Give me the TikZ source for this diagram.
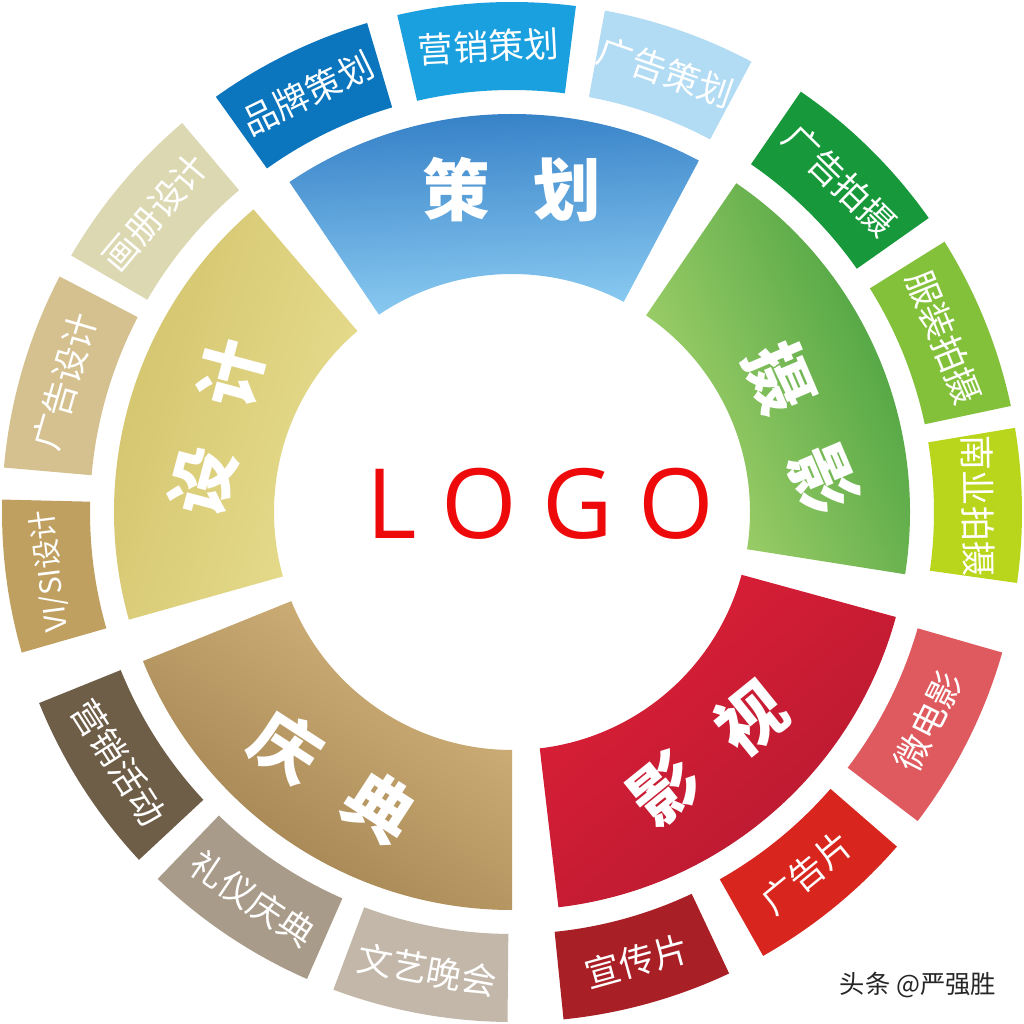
\documentclass[tikz,border=0pt]{standalone}
\usepackage{fontspec}
\setmainfont{Open Sans}
\newfontfamily\cjk{Noto Sans CJK SC}

\definecolor{logored}{HTML}{EE0A0A}
\definecolor{blueout}{HTML}{2C78C2}
\definecolor{bluein}{HTML}{8DCDF3}
\definecolor{greenout}{HTML}{429D3D}
\definecolor{greenin}{HTML}{AAD56E}
\definecolor{redout}{HTML}{B51A30}
\definecolor{redin}{HTML}{DD1F37}
\definecolor{brownout}{HTML}{9F7F4D}
\definecolor{brownin}{HTML}{D4B57D}
\definecolor{yellowout}{HTML}{D2C16A}
\definecolor{yellowin}{HTML}{E7DE8F}

% sector of the ring: start angle, end angle, inner radius, outer radius
\newcommand{\ringpart}[4]{(#1:#3) arc[start angle=#1, end angle=#2, radius=#3]
  -- (#2:#4) arc[start angle=#2, end angle=#1, radius=#4] -- cycle}

\begin{document}
\begin{tikzpicture}[x=0.025cm, y=0.025cm,
  mainlabel/.style={font=\cjk\bfseries\fontsize{48}{48}\selectfont, text=white},
  sublabel/.style={font=\cjk\fontsize{25}{25}\selectfont, text=white}]

\useasboundingbox (-512,-512) rectangle (512,512);
\fill[white] (-512,-512) rectangle (512,512);

% inner ring
\shade[top color=blueout, bottom color=bluein, shading angle=3] \ringpart{62}{124}{238}{398};
\shade[top color=greenout, bottom color=greenin, shading angle=-67] \ringpart{-9}{55.7}{238}{398};
\shade[top color=redout, bottom color=redin, shading angle=-139] \ringpart{-83.3}{-15.3}{238}{398};
\shade[top color=brownout, bottom color=brownin, shading angle=146] \ringpart{202}{270}{238}{398};
\shade[top color=yellowout, bottom color=yellowin, shading angle=73] \ringpart{130.5}{195.7}{238}{398};

\node[mainlabel] (cehua) at (90:322) {策\hspace{.65em}划};
\node[mainlabel, rotate=-67] (sheying) at (16:302) {摄\hspace{.65em}影};
\node[mainlabel, rotate=39] (yingshi) at (-51:311) {影\hspace{.65em}视};
\node[mainlabel, rotate=-33] (qingdian) at (236:319) {庆\hspace{.65em}典};
\node[mainlabel, rotate=75] (sheji) at (164:307) {设\hspace{.65em}计};

% outer ring
\fill[fill={rgb,255:red,178;green,219;blue,244}] \ringpart{62}{79.5}{422}{510};
\fill[fill={rgb,255:red,26;green,159;blue,223}] \ringpart{82.8}{103}{422}{510};
\fill[fill={rgb,255:red,11;green,117;blue,189}] \ringpart{106.5}{125.5}{422}{510};
\node[sublabel, rotate=-19.25] (ggch) at (70.75:466) {广告策划};
\node[sublabel, rotate=2.9] (yxch) at (92.9:466) {营销策划};
\node[sublabel, rotate=26] (ppch) at (116:466) {品牌策划};

\fill[fill={rgb,255:red,23;green,153;blue,59}] \ringpart{35.2}{55.5}{422}{510};
\fill[fill={rgb,255:red,132;green,193;blue,59}] \ringpart{12}{32}{422}{510};
\fill[fill={rgb,255:red,186;green,214;blue,28}] \ringpart{-8}{9.5}{422}{510};
\node[sublabel, rotate=-44.65] (ggps) at (45.35:466) {广告拍摄};
\node[sublabel, rotate=-68] (fzps) at (22:466) {服装拍摄};
\node[sublabel, rotate=-89.25] (nyps) at (0.75:466) {南业拍摄};

\fill[fill={rgb,255:red,223;green,90;blue,94}] \ringpart{-37.3}{-16}{422}{510};
\fill[fill={rgb,255:red,216;green,38;blue,30}] \ringpart{-60.5}{-41}{422}{510};
\fill[fill={rgb,255:red,168;green,31;blue,37}] \ringpart{-84.2}{-64.8}{422}{510};
\node[sublabel, rotate=63.35] (wdy) at (-26.65:466) {微电影};
\node[sublabel, rotate=39.25] (ggp) at (-50.75:466) {广告片};
\node[sublabel, rotate=15.5] (xcp) at (-74.5:466) {宣传片};

\fill[fill={rgb,255:red,110;green,93;blue,71}] \ringpart{202}{223}{422}{510};
\fill[fill={rgb,255:red,169;green,155;blue,138}] \ringpart{226}{246.3}{422}{510};
\fill[fill={rgb,255:red,195;green,183;blue,169}] \ringpart{249.5}{269.5}{422}{510};
\node[sublabel, rotate=-57.5] (yxhd) at (212.5:466) {营销活动};
\node[sublabel, rotate=-33.85] (lyqd) at (236.15:466) {礼仪庆典};
\node[sublabel, rotate=-10.5] (wywh) at (259.5:466) {文艺晚会};

\fill[fill={rgb,255:red,220;green,216;blue,178}] \ringpart{130.3}{149.8}{422}{510};
\fill[fill={rgb,255:red,213;green,192;blue,143}] \ringpart{152.5}{175}{422}{510};
\fill[fill={rgb,255:red,192;green,160;blue,96}] \ringpart{178.6}{196}{422}{510};
\node[sublabel, rotate=50] (hcsj) at (140:466) {画册设计};
\node[sublabel, rotate=73.75] (ggsj) at (163.75:466) {广告设计};
\node[sublabel, rotate=97.3, font=\cjk\fontsize{21}{21}\selectfont] (vssj) at (187.3:466) {VI/SI设计};

% centre and watermark
\node[font=\fontsize{69}{69}\selectfont, text=logored] (logo) at (28,8) {L O G O};
\node[font=\cjk\fontsize{18}{18}\selectfont, text=black!85] (mark) at (406,-473) {头条 @严强胜};

\end{tikzpicture}
\end{document}
